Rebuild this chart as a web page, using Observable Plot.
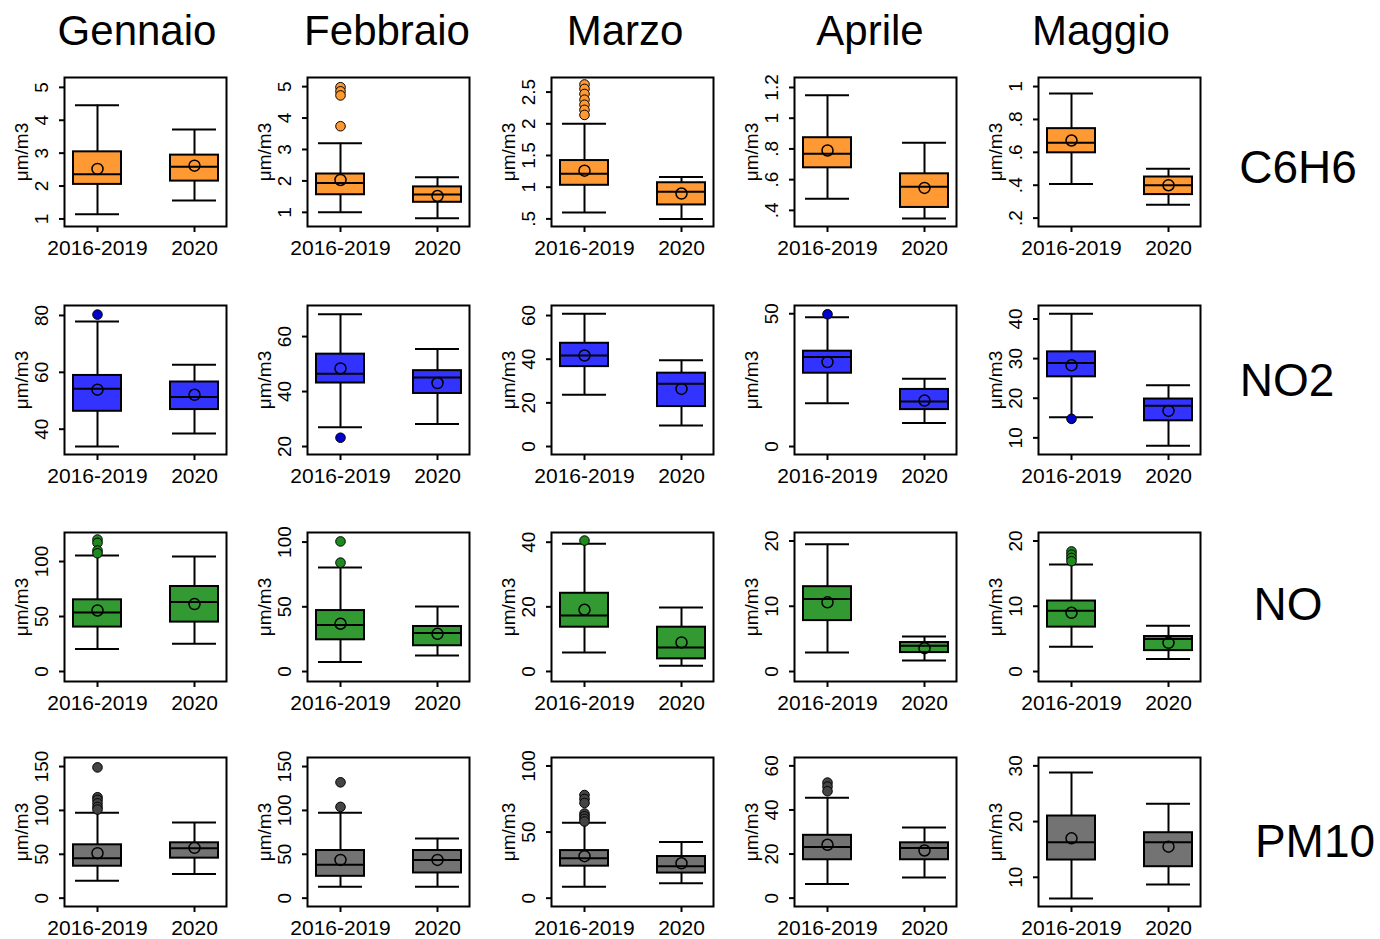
<!DOCTYPE html>
<html><head><meta charset="utf-8">
<script src="https://cdn.jsdelivr.net/npm/d3@7"></script>
<script src="https://cdn.jsdelivr.net/npm/@observablehq/plot@0.6"></script>
<style>
body{margin:0;background:#fff;font-family:"Liberation Sans",Arial,Helvetica,sans-serif;}
#root{position:relative;width:1380px;height:939px;overflow:hidden;background:#fff;}
.panel{position:absolute;}
.title{position:absolute;transform:translate(-50%,-50%);font-size:42px;white-space:nowrap;line-height:1;color:#000;}
.rowlab{position:absolute;transform:translate(-50%,-50%);font-size:46px;white-space:nowrap;line-height:1;color:#000;}
</style></head><body><div id="root"></div>
<script>
// ---------- DATA ----------
const months = ["Gennaio", "Febbraio", "Marzo", "Aprile", "Maggio"];
const pollutants = ["C6H6", "NO2", "NO", "PM10"];
const periods = ["2016-2019", "2020"];
const unit = "μm/m3";

// per month: [lower whisker, Q1, median, Q3, upper whisker, mean]
const c6h6_2016_2019 = [[1.14,2.05,2.36,3.04,4.46,2.52],[1.0,1.56,1.93,2.22,3.2,2.03],[0.60,1.03,1.21,1.42,2.0,1.26],[0.475,0.677,0.768,0.873,1.15,0.79],[0.408,0.597,0.658,0.744,0.957,0.672]];
const c6h6_2020      = [[1.56,2.15,2.59,2.94,3.72,2.62],[0.81,1.32,1.57,1.81,2.12,1.52],[0.5,0.72,0.93,1.07,1.16,0.90],[0.347,0.419,0.553,0.638,0.84,0.546],[0.282,0.343,0.40,0.45,0.50,0.40]];
const no2_2016_2019  = [[33.9,46.3,54.2,58.9,77.9,53.9],[27.0,43.1,46.5,53.6,68.1,48.4],[23.7,36.6,41.7,47.3,60.8,41.7],[16.3,27.6,33.7,35.9,48.7,31.8],[15.2,25.4,28.9,31.7,41.3,28.3]];
const no2_2020       = [[38.5,46.9,51.3,56.6,62.7,52.1],[28.2,39.3,45.1,47.6,55.5,43.1],[9.6,18.3,28.7,33.6,39.5,26.4],[8.9,13.9,17.0,21.5,25.5,17.3],[8.0,14.3,18.1,19.8,23.3,16.8]];
const no_2016_2019   = [[20.4,40.4,53.6,65.2,105.5,55.5],[7.3,24.5,35.9,47.1,80.4,36.9],[5.9,13.7,17.3,24.2,39.5,19.1],[2.9,7.8,11.1,13.0,19.5,10.6],[3.8,6.8,9.3,10.8,16.4,9.0]];
const no_2020        = [[25.2,44.9,63.1,77.3,104.5,61.3],[12.4,19.9,29.7,34.8,50.2,29.1],[1.8,3.9,7.4,13.7,19.8,9.0],[1.68,2.9,3.93,4.44,5.36,3.58],[1.9,3.2,5.0,5.36,7.0,4.4]];
const pm10_2016_2019 = [[19.9,36.4,45.6,60.8,97.2,51.3],[13.0,24.9,38.2,54.3,97.2,43.6],[8.6,24.2,30.2,36.0,57.1,31.8],[6.4,17.4,23.2,28.5,45.5,24.2],[6.2,13.1,16.3,21.0,28.8,17.0]];
const pm10_2020      = [[27.6,45.6,57.0,63.1,86.1,57.4],[13.0,28.7,43.6,54.3,68.1,43.6],[11.2,19.0,24.2,31.5,42.4,26.4],[9.4,17.4,22.7,25.1,32.0,21.6],[8.7,11.9,16.3,18.0,23.2,15.5]];

// outliers (2016-2019 only), per month
const c6h6_outliers = [[],[4.98,4.85,4.72,3.74],[2.62,2.55,2.47,2.38,2.3,2.22,2.14],[],[]];
const no2_outliers  = [[80.3],[23.2],[],[49.8],[14.8]];
const no_outliers   = [[120,117,110,107.5],[100.5,84.1],[40.5],[],[18.4,17.9,17.4,16.9]];
const pm10_outliers = [[149,115,112,108,104,101],[132,104],[78,75,72,64,62,60,58],[52.4,50.6,48.5],[]];

// y-axis ticks, per month
const c6h6_ticks = [[1,2,3,4,5],[1,2,3,4,5],[0.5,1,1.5,2,2.5],[0.4,0.6,0.8,1,1.2],[0.2,0.4,0.6,0.8,1]];
const no2_ticks  = [[40,60,80],[20,40,60],[0,20,40,60],[0,50],[10,20,30,40]];
const no_ticks   = [[0,50,100],[0,50,100],[0,20,40],[0,10,20],[0,10,20]];
const pm10_ticks = [[0,50,100,150],[0,50,100,150],[0,50,100],[0,20,40,60],[10,20,30]];

// y-axis limits, per month
const c6h6_ylim = [[0.77,5.30],[0.55,5.29],[0.38,2.73],[0.295,1.265],[0.149,1.055]];
const no2_ylim  = [[31.1,83.5],[17.1,71.3],[-3.66,64.6],[-3.0,53.1],[5.8,43.4]];
const no_ylim   = [[-9.1,126.4],[-7.7,107.4],[-3.1,43.0],[-1.53,21.3],[-1.53,21.3]];
const pm10_ylim = [[-9.5,160.3],[-9.5,160.3],[-6.3,106.4],[-3.8,63.8],[4.76,31.5]];

const boxColors = ["#FF9933", "#3333FF", "#339933", "#737373"];
const outColors = ["#FF9933", "#0000CC", "#1E8A1E", "#444444"];

// ---------- LAYOUT ----------
const statsA = [c6h6_2016_2019, no2_2016_2019, no_2016_2019, pm10_2016_2019];
const statsB = [c6h6_2020, no2_2020, no_2020, pm10_2020];
const outliers = [c6h6_outliers, no2_outliers, no_outliers, pm10_outliers];
const ticks = [c6h6_ticks, no2_ticks, no_ticks, pm10_ticks];
const ylims = [c6h6_ylim, no2_ylim, no_ylim, pm10_ylim];

const FW = 162, FH = 149;
const ML = 70, MR = 4, MT = 4, MB = 36;
const colLeft = [64, 307, 551, 794, 1038];
const rowTop = [77, 305, 532, 757];
const titleX = [137, 387, 625, 870, 1101];
const titleY = 31;
const rowLabX = [1298, 1287, 1288, 1315];
const rowLabY = [167, 380, 604, 841];
const FONT = "'Liberation Sans', Arial, Helvetica, sans-serif";

const fmt = d => String(d).replace(/^0\./, ".");

function panel(pi, mi) {
  const rows = periods.map((p, k) => {
    const s = (k === 0 ? statsA : statsB)[pi][mi];
    return {period: p, lo: s[0], q1: s[1], med: s[2], q3: s[3], hi: s[4], mean: s[5]};
  });
  const out = outliers[pi][mi].map(v => ({period: periods[0], value: v}));
  const tk = ticks[pi][mi];
  return Plot.plot({
    width: FW + ML + MR, height: FH + MT + MB,
    marginLeft: ML, marginRight: MR, marginTop: MT, marginBottom: MB,
    style: {fontFamily: FONT, background: "transparent", color: "#000", overflow: "visible"},
    x: {type: "band", domain: periods, paddingInner: 0.506, paddingOuter: 0.0865, axis: null},
    y: {domain: ylims[pi][mi], axis: null},
    marks: [
      Plot.ruleX(rows, {x: "period", y1: "q3", y2: "hi", stroke: "#000", strokeWidth: 2}),
      Plot.ruleX(rows, {x: "period", y1: "lo", y2: "q1", stroke: "#000", strokeWidth: 2}),
      Plot.tickY(rows, {x: "period", y: "hi", stroke: "#000", strokeWidth: 2, insetLeft: 2, insetRight: 2}),
      Plot.tickY(rows, {x: "period", y: "lo", stroke: "#000", strokeWidth: 2, insetLeft: 2, insetRight: 2}),
      Plot.barY(rows, {x: "period", y1: "q1", y2: "q3", fill: boxColors[pi], stroke: "#000", strokeWidth: 2}),
      Plot.tickY(rows, {x: "period", y: "med", stroke: "#000", strokeWidth: 2}),
      Plot.dot(rows, {x: "period", y: "mean", r: 5.5, stroke: "#000", strokeWidth: 1.5}),
      Plot.dot(out, {x: "period", y: "value", r: 4.8, fill: outColors[pi], stroke: "#000", strokeWidth: 1}),
      Plot.frame({stroke: "#000", strokeWidth: 2}),
      Plot.axisY(tk, {tickSize: 5, tickFormat: () => "", label: null, strokeWidth: 2}),
      Plot.text(tk, {y: d => d, text: fmt, frameAnchor: "left", dx: -17, rotate: -90, textAnchor: "middle", lineAnchor: "bottom", fontSize: 19, fill: "#000"}),
      Plot.text([unit], {frameAnchor: "left", dx: -37, rotate: -90, textAnchor: "middle", lineAnchor: "bottom", fontSize: 19, fill: "#000"}),
      Plot.axisX({tickSize: 6, tickPadding: 8, fontSize: 21, label: null, strokeWidth: 2})
    ]
  });
}

const root = document.getElementById("root");
pollutants.forEach((p, pi) => {
  months.forEach((m, mi) => {
    const div = document.createElement("div");
    div.className = "panel";
    div.style.left = (colLeft[mi] - ML) + "px";
    div.style.top = (rowTop[pi] - MT) + "px";
    div.appendChild(panel(pi, mi));
    root.appendChild(div);
  });
  const lab = document.createElement("div");
  lab.className = "rowlab";
  lab.textContent = p;
  lab.style.left = rowLabX[pi] + "px";
  lab.style.top = rowLabY[pi] + "px";
  root.appendChild(lab);
});
months.forEach((m, mi) => {
  const t = document.createElement("div");
  t.className = "title";
  t.textContent = m;
  t.style.left = titleX[mi] + "px";
  t.style.top = titleY + "px";
  root.appendChild(t);
});
</script></body></html>
